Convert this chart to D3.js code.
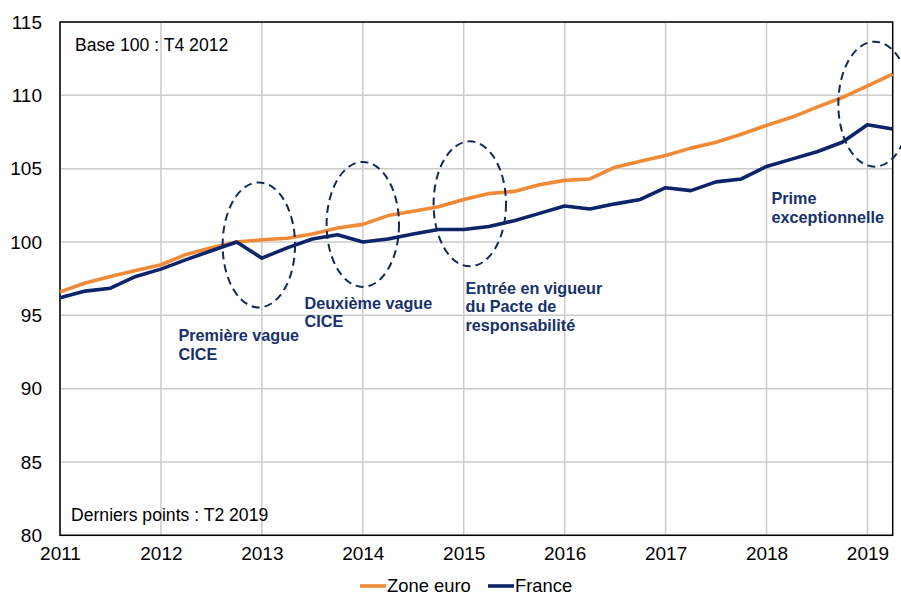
<!DOCTYPE html>
<html>
<head>
<meta charset="utf-8">
<script src="https://cdn.jsdelivr.net/npm/d3@7"></script>
<style>
  body { margin: 0; background: #fff; }
  svg { display: block; font-family: "Liberation Sans", Arial, sans-serif; }
</style>
</head>
<body>
<svg id="chart" width="901" height="595"></svg>
<script>
// trimestres T1 2011 -> T2 2019 (base 100 : T4 2012)
const quarters = d3.range(34).map(i => 2011 + i * 0.25);

const zoneEuro = [96.6, 97.2, 97.65, 98.05, 98.45, 99.15, 99.6, 100.0,
  100.15, 100.25, 100.55, 100.95, 101.2, 101.8, 102.1, 102.4,
  102.9, 103.3, 103.45, 103.9, 104.2, 104.3, 105.1, 105.5,
  105.9, 106.4, 106.8, 107.35, 107.95, 108.5, 109.2, 109.85,
  110.65, 111.45];

const france = [96.2, 96.65, 96.85, 97.65, 98.15, 98.8, 99.4, 100.0,
  98.9, 99.6, 100.2, 100.5, 100.0, 100.2, 100.55, 100.85,
  100.85, 101.05, 101.45, 101.95, 102.45, 102.25, 102.6, 102.9,
  103.7, 103.5, 104.1, 104.3, 105.15, 105.65, 106.15, 106.8,
  108.0, 107.7];

const yearTicks = d3.range(2011, 2020);
const valueTicks = [80, 85, 90, 95, 100, 105, 110, 115];

// annotations : centre de l'ellipse (année, valeur) + libellé
const annoYears = [2012.97, 2014.0, 2015.06, 2019.07];
const annoValues = [99.8, 101.2, 102.6, 109.4];
const annoLabels = [
  ["Première vague", "CICE"],
  ["Deuxième vague", "CICE"],
  ["Entrée en vigueur", "du Pacte de", "responsabilité"],
  ["Prime", "exceptionnelle"]
];

const seriesNames = ["Zone euro", "France"];
const colors = ["#F08A36", "#0C2468"];

const width = 901, height = 595;
const margin = { top: 22, right: 8.3, bottom: 59.7, left: 60 };

const svg = d3.select("#chart");

const x = d3.scaleLinear()
  .domain([2011, 2019.25])
  .range([margin.left, width - margin.right]);

const y = d3.scaleLinear()
  .domain([80, 115])
  .range([height - margin.bottom, margin.top]);

// grille
svg.append("g")
  .selectAll("line")
  .data(yearTicks)
  .join("line")
  .attr("x1", d => x(d)).attr("x2", d => x(d))
  .attr("y1", y(80)).attr("y2", y(115))
  .attr("stroke", "#cbcbcb")
  .attr("stroke-width", 1.5);

svg.append("g")
  .selectAll("line")
  .data(valueTicks)
  .join("line")
  .attr("x1", x(2011)).attr("x2", x(2019.25))
  .attr("y1", d => y(d)).attr("y2", d => y(d))
  .attr("stroke", "#cbcbcb")
  .attr("stroke-width", 1.5);

// cadre
svg.append("rect")
  .attr("x", x(2011)).attr("y", y(115))
  .attr("width", x(2019.25) - x(2011))
  .attr("height", y(80) - y(115))
  .attr("fill", "none")
  .attr("stroke", "#000")
  .attr("stroke-width", 1.5);

// axes
const yAxis = svg.append("g")
  .attr("transform", `translate(${margin.left},0)`)
  .call(d3.axisLeft(y).tickValues(valueTicks).tickSize(0).tickPadding(18));
yAxis.select(".domain").remove();
yAxis.selectAll("text")
  .attr("font-family", "Liberation Sans, Arial, sans-serif")
  .attr("font-size", 19)
  .attr("fill", "#000");

const xAxis = svg.append("g")
  .attr("transform", `translate(0,${height - margin.bottom})`)
  .call(d3.axisBottom(x).tickValues(yearTicks).tickFormat(d3.format("d")).tickSize(0).tickPadding(11));
xAxis.select(".domain").remove();
xAxis.selectAll("text")
  .attr("font-family", "Liberation Sans, Arial, sans-serif")
  .attr("font-size", 19)
  .attr("fill", "#000");

// courbes
const line = d3.line()
  .x((d, i) => x(quarters[i]))
  .y(d => y(d));

[zoneEuro, france].forEach((s, k) => {
  svg.append("path")
    .datum(s)
    .attr("fill", "none")
    .attr("stroke", colors[k])
    .attr("stroke-width", 3.6)
    .attr("stroke-linejoin", "round")
    .attr("d", line);
});

// ellipses en pointillés
svg.append("g")
  .selectAll("ellipse")
  .data(annoYears)
  .join("ellipse")
  .attr("cx", d => x(d))
  .attr("cy", (d, i) => y(annoValues[i]))
  .attr("rx", 36.2)
  .attr("ry", 62.5)
  .attr("fill", "none")
  .attr("stroke", "#14285a")
  .attr("stroke-width", 2)
  .attr("stroke-dasharray", "8,5");

// libellés des annotations
const labelPos = [[178.5, 341], [304.5, 308.5], [465.5, 293.5], [771.5, 204]];
annoLabels.forEach((lines, i) => {
  const t = svg.append("text")
    .attr("x", labelPos[i][0])
    .attr("y", labelPos[i][1])
    .attr("font-size", 16.2)
    .attr("font-weight", "bold")
    .attr("fill", "#17316b");
  lines.forEach((l, j) => {
    t.append("tspan")
      .attr("x", labelPos[i][0])
      .attr("dy", j === 0 ? 0 : 18.8)
      .text(l);
  });
});

// notes
svg.append("text")
  .attr("x", 75).attr("y", 51)
  .attr("font-size", 17.6)
  .attr("fill", "#000")
  .text("Base 100 : T4 2012");

svg.append("text")
  .attr("x", 71).attr("y", 521)
  .attr("font-size", 17.6)
  .attr("fill", "#000")
  .text("Derniers points : T2 2019");

// légende
const legendX = [360, 488];
const legend = svg.append("g");
seriesNames.forEach((name, i) => {
  legend.append("line")
    .attr("x1", legendX[i]).attr("x2", legendX[i] + 26)
    .attr("y1", 586).attr("y2", 586)
    .attr("stroke", colors[i])
    .attr("stroke-width", 3.6);
  legend.append("text")
    .attr("x", legendX[i] + 27)
    .attr("y", 592)
    .attr("font-size", 18.4)
    .attr("fill", "#000")
    .text(name);
});
</script>
</body>
</html>
